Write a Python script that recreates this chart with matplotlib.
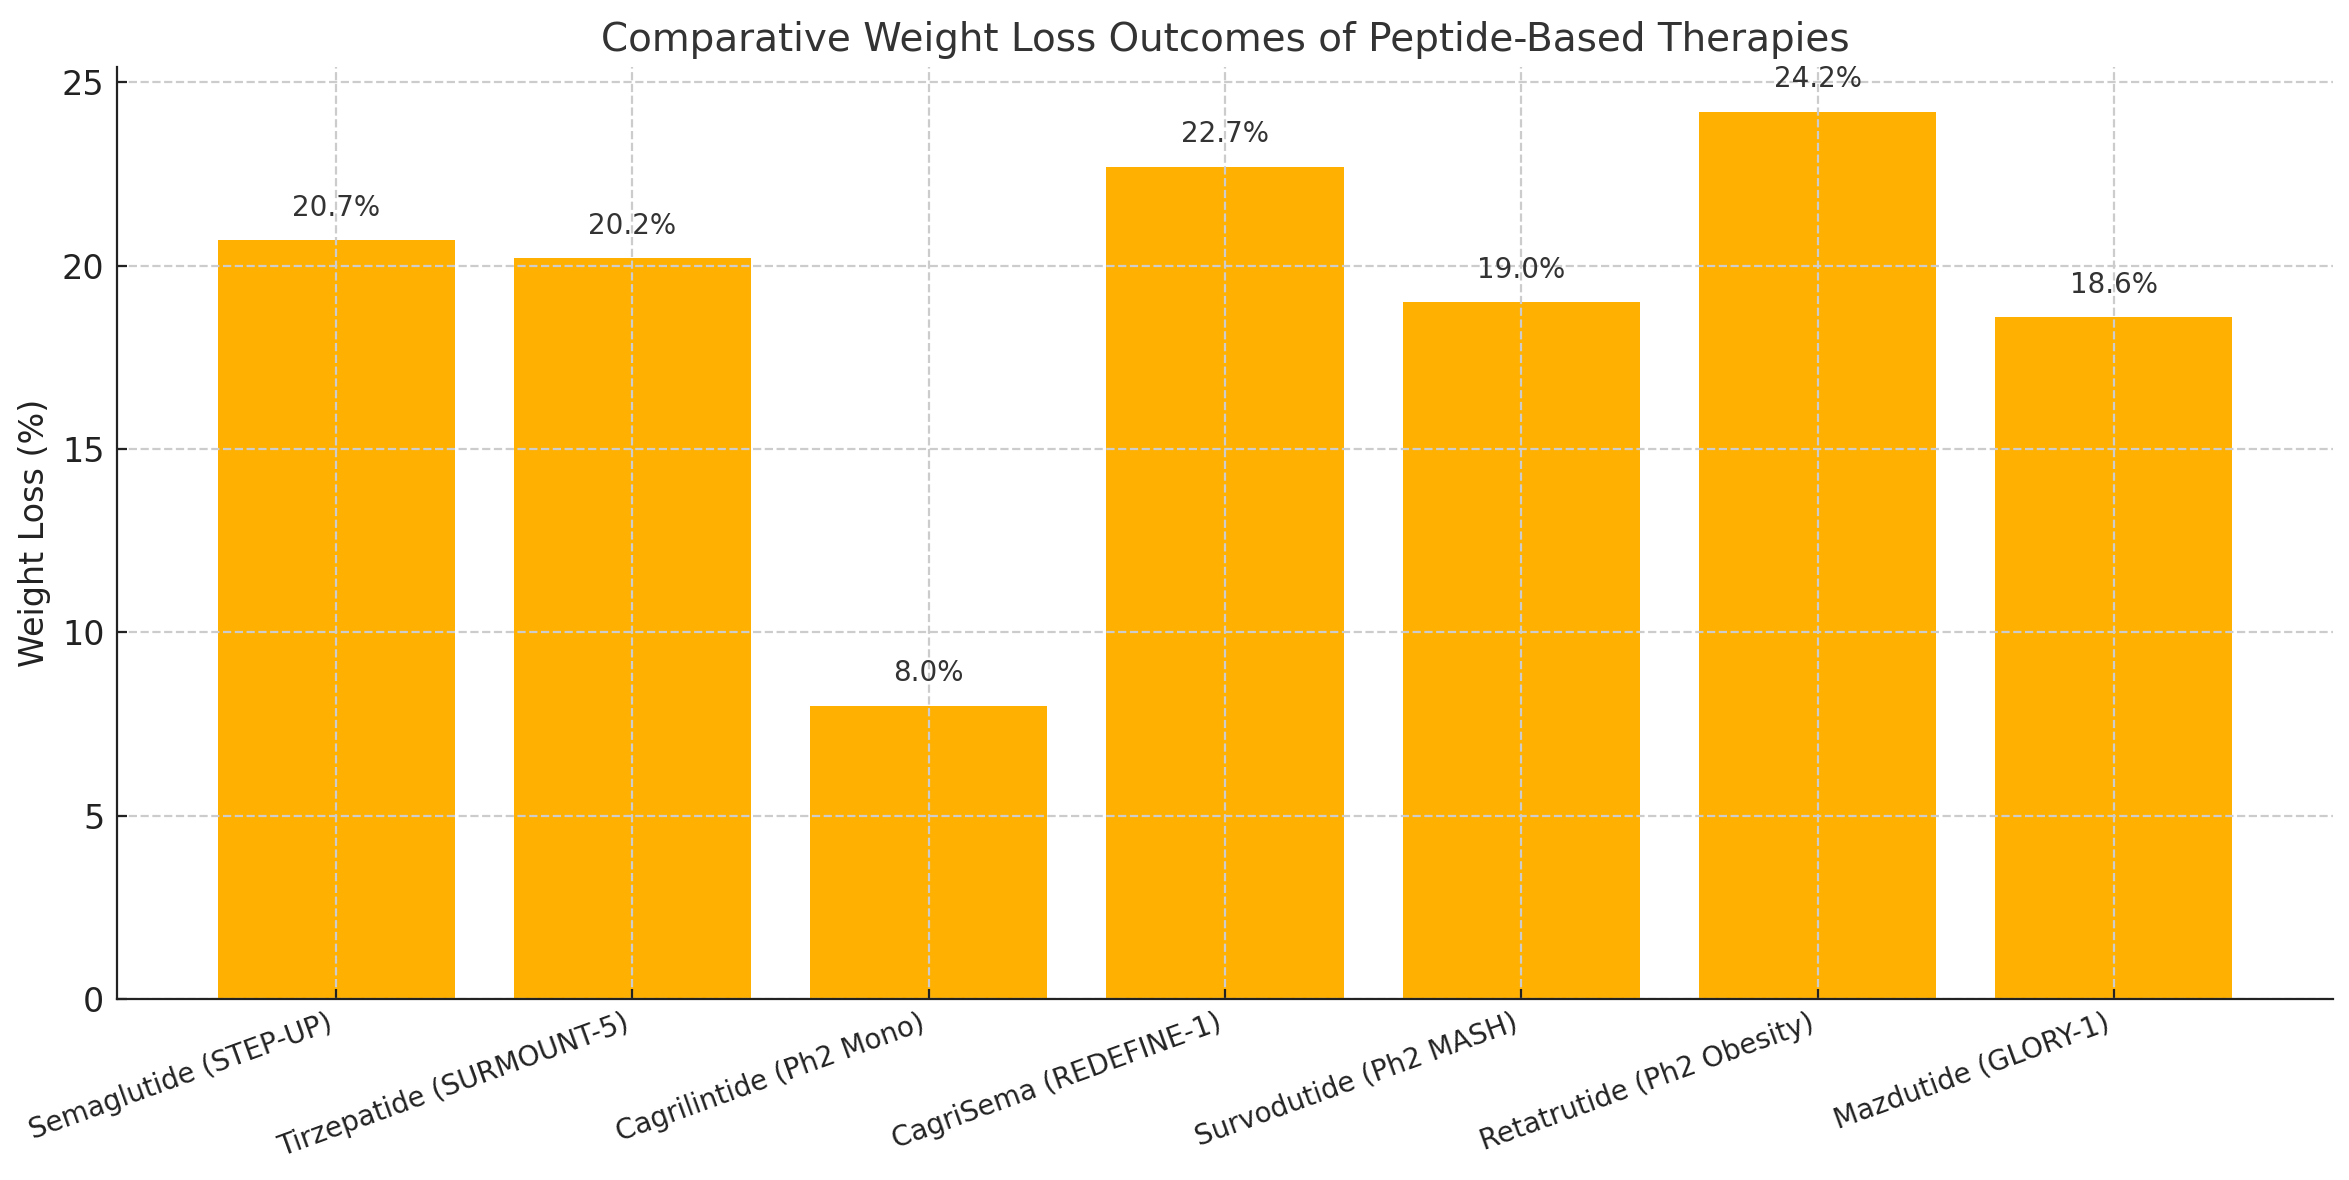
import numpy as np
import matplotlib
matplotlib.use('Agg')
import matplotlib.pyplot as plt

therapies = ["Semaglutide (STEP-UP)", "Tirzepatide (SURMOUNT-5)", "Cagrilintide (Ph2 Mono)",
             "CagriSema (REDEFINE-1)", "Survodutide (Ph2 MASH)", "Retatrutide (Ph2 Obesity)",
             "Mazdutide (GLORY-1)"]
weight_loss = [20.7, 20.2, 8.0, 22.7, 19.0, 24.2, 18.6]

fig, ax = plt.subplots(figsize=(11.745, 5.9), dpi=200)
fig.subplots_adjust(left=0.0498, right=0.9932, top=0.943, bottom=0.1534)

x = np.arange(len(therapies))
ax.bar(x, weight_loss, width=0.8, color='#FFB000')

# value labels above each bar
for xi, v in zip(x, weight_loss):
    ax.text(xi, v + 0.5, f"{v:.1f}%", ha='center', va='bottom', fontsize=10, color='#333333')

ax.set_ylim(0, max(weight_loss) * 1.05)
ax.set_xticks(x)
ax.set_xticklabels(therapies, rotation=20, ha='right', fontsize=10, color='#222222')
ax.tick_params(axis='both', direction='in', color='#222222')
ax.tick_params(axis='y', labelsize=12, labelcolor='#222222', pad=4.5)
ax.set_ylabel("Weight Loss (%)", fontsize=12, color='#222222')
ax.set_title("Comparative Weight Loss Outcomes of Peptide-Based Therapies", fontsize=14, color='#333333')

ax.grid(True, linestyle='--', color='#cccccc', linewidth=0.8)
ax.spines['top'].set_visible(False)
ax.spines['right'].set_visible(False)
ax.spines['left'].set_color('#222222')
ax.spines['bottom'].set_color('#222222')

fig.savefig('out.png', dpi=200)
